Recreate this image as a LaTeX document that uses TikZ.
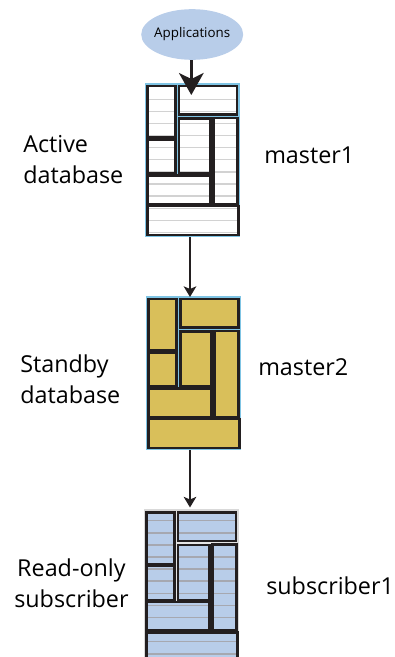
\documentclass[tikz,border=0pt]{standalone}
\usepackage{fontspec}
\setmainfont{Open Sans}
\usetikzlibrary{arrows.meta,fit,shapes.geometric}
\definecolor{ink}{HTML}{231F20}
\definecolor{sky}{HTML}{7FC4E4}
\definecolor{pale}{HTML}{B8CDE9}
\definecolor{gold}{HTML}{D9BF5A}
\definecolor{rulea}{HTML}{D2D2D2}
\definecolor{ruleb}{HTML}{A6A8B0}
\tikzset{
  x=0.75pt,y=-0.75pt,
  cellbox/.style={draw=ink,line width=2pt,line join=miter},
  whitelines/.style={draw=rulea,line width=1pt},
  nolines/.style={draw=none},
  bluelines/.style={draw=ruleb,line width=1.1pt},
  outerbox/.style={inner sep=0pt,line width=1.1pt},
  lbl/.style={font=\fontsize{17.5pt}{23.25pt}\selectfont,inner sep=0pt,anchor=base west},
  lblstack/.style={lbl,align=left},
  bigarrow/.style={draw=ink,line width=2pt,-{Stealth[length=16.5pt,width=18.5pt,inset=4.5pt]}},
  smallarrow/.style={draw=ink,line width=1.1pt,-{Stealth[length=8pt,width=9.5pt,inset=2pt]}},
}
\newcommand{\dbcell}[6]{% x1 y1 x2 y2 fill linestyle
  \begin{scope}
    \clip (#1,#2) rectangle (#3,#4);
    \fill[#5] (#1,#2) rectangle (#3,#4);
    \foreach \yy in {0,...,12} {
      \path[#6] (140,{\dbfirst+12.1*\yy}) -- (245,{\dbfirst+12.1*\yy});
    }
  \end{scope}
  \draw[cellbox] (#1,#2) rectangle (#3,#4);
}
\newcommand{\dbblock}[7]{% name dx dy fill linestyle outer colour gap colour
  \begin{scope}[shift={(#2,#3)}]
    \coordinate (#1nw) at (145.5,83.5);
    \coordinate (#1se) at (239,236.7);
    \node[fit=(#1nw)(#1se),outerbox,draw=#6,fill=#7] (#1) {};
    \dbcell{147.3}{86}{175.3}{137.5}{#4}{#5}
    \dbcell{147.3}{139.5}{175.3}{173.5}{#4}{#5}
    \dbcell{179}{86}{237}{114.5}{#4}{#5}
    \dbcell{179}{118.5}{210.5}{173.5}{#4}{#5}
    \dbcell{213.5}{118}{237.5}{204}{#4}{#5}
    \dbcell{147.3}{175.5}{210.5}{204}{#4}{#5}
    \dbcell{147.3}{206}{238.5}{235}{#4}{#5}
  \end{scope}
}
\begin{document}
\begin{tikzpicture}
\useasboundingbox (0,0) rectangle (395,657);
\clip (0,0) rectangle (395,657);
\node[ellipse,fill=pale,minimum width=76.5pt,minimum height=38pt,inner sep=0pt] (app) at (192.2,34.5) {};
\node[inner sep=0pt,font=\fontsize{10pt}{12pt}\selectfont] (applbl) at (app) {Applications};

\def\dbfirst{99.3}
\dbblock{dba}{0}{0}{white}{whitelines}{sky}{sky}
\dbblock{dbb}{1.3}{213}{gold}{nolines}{sky}{sky}
\def\dbfirst{94.2}
\dbblock{dbc}{-1}{426.5}{pale}{bluelines}{black!15}{black!10}

\coordinate (tipa) at (191.3,95);
\coordinate (tipb) at (190,297);
\coordinate (tipc) at (190,507.5);
\draw[bigarrow] (app.south -| tipa) -- (tipa);
\draw[smallarrow] (dba.south -| tipb) -- (tipb);
\draw[smallarrow] (dbb.south -| tipc) -- (tipc);

\node[lblstack] (ta) at (23,183) {Active\\database};
\node[lbl] (ma) at (264,163) {master1};
\node[lblstack] (tb) at (20,403) {Standby\\database};
\node[lbl] (mb) at (258,375) {master2};
\node[lblstack,align=center] (tc) at (14,607) {Read-only\\subscriber};
\node[lbl] (mc) at (266,594) {subscriber1};
\end{tikzpicture}
\end{document}
